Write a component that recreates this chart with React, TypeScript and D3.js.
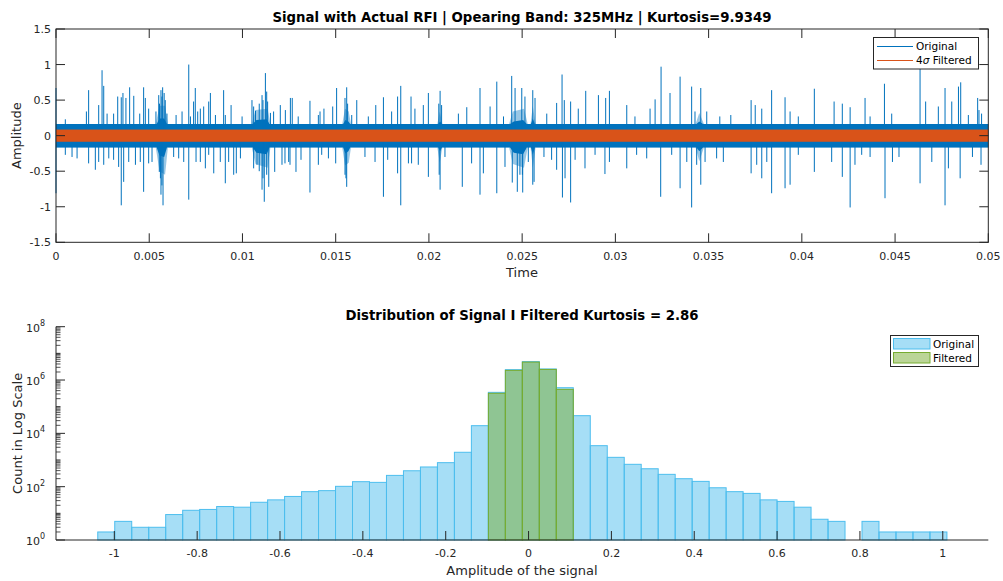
import React from 'react';
import * as d3 from 'd3';

// ---------- DATA ----------
const timeTicks = [0, 0.005, 0.01, 0.015, 0.02, 0.025, 0.03, 0.035, 0.04, 0.045, 0.05];
const ampTicks = [-1.5, -1, -0.5, 0, 0.5, 1, 1.5];

// [time in ms, amplitude]
const posSpikes: [number, number][] = [
  [0.0, 0.67], [0.5, 0.23], [1.63, 0.34], [1.75, 0.64], [2.29, 0.43], [2.47, 0.92], [2.56, 0.7], [2.74, 0.31],
  [3.09, 0.31], [3.31, 0.55], [3.5, 0.54], [3.59, 0.6], [3.75, 0.53], [3.95, 0.68], [4.17, 0.56], [4.49, 0.31],
  [4.7, 0.68], [4.79, 0.53], [4.97, 0.38], [5.36, 0.34], [5.51, 0.57], [5.55, 0.45], [5.63, 0.64], [5.68, 0.55],
  [5.72, 0.68], [5.8, 0.6], [5.86, 0.5], [5.95, 0.31], [6.44, 0.29], [6.76, 0.34], [7.12, 1.0], [7.21, 0.27],
  [7.38, 0.48], [7.47, 0.67], [7.6, 0.34], [7.74, 0.38], [7.92, 0.41], [8.19, 0.48], [8.28, 0.6], [8.55, 0.29],
  [8.99, 0.64], [9.08, 0.29], [9.39, 0.43], [9.98, 0.27], [10.51, 0.5], [10.6, 0.41], [10.7, 0.35], [10.9, 0.45],
  [11.05, 0.57], [11.1, 0.5], [11.23, 0.88], [11.3, 0.62], [11.35, 0.48], [11.5, 0.32], [11.67, 0.34], [12.03, 0.43],
  [12.3, 0.36], [12.57, 0.53], [12.67, 0.53], [12.99, 0.27], [13.62, 0.49], [14.07, 0.29], [14.16, 0.34], [14.37, 0.38],
  [14.84, 0.41], [15.05, 0.67], [15.5, 0.53], [15.59, 0.68], [15.64, 0.45], [15.86, 0.29], [16.13, 0.5], [16.75, 0.27],
  [17.15, 0.43], [17.56, 0.54], [18.0, 0.34], [18.32, 0.55], [18.49, 0.7], [19.04, 0.55], [19.25, 0.38], [19.7, 0.43],
  [19.97, 0.6], [20.53, 0.45], [20.6, 0.63], [20.68, 0.43], [21.58, 0.31], [22.03, 0.4], [22.74, 0.67], [23.28, 0.41],
  [23.64, 0.76], [24.0, 0.27], [24.44, 0.84], [24.62, 0.67], [24.98, 0.67], [25.15, 0.55], [25.57, 0.64], [25.69, 0.53],
  [26.32, 0.31], [26.85, 0.46], [27.14, 0.86], [27.26, 0.5], [27.6, 0.48], [28.01, 0.38], [28.41, 0.63], [29.09, 0.57],
  [29.48, 0.53], [29.68, 0.63], [30.61, 0.43], [31.05, 0.27], [31.86, 0.38], [32.13, 0.51], [32.45, 0.97], [32.93, 0.6],
  [33.47, 0.83], [34.09, 0.69], [34.27, 0.34], [34.58, 0.67], [34.9, 0.34], [35.6, 0.27], [36.19, 0.29], [37.28, 0.5],
  [37.5, 0.43], [37.85, 0.38], [38.38, 0.64], [39.1, 0.54], [39.37, 0.34], [39.81, 0.27], [40.67, 0.66], [41.73, 0.48],
  [42.17, 0.45], [42.59, 0.4], [43.39, 0.53], [43.66, 0.27], [44.43, 0.73], [44.82, 0.31], [46.34, 0.94], [46.64, 0.48],
  [47.32, 0.41], [47.68, 0.67], [48.04, 0.48], [48.4, 0.69], [48.52, 0.75], [48.93, 0.29], [49.43, 0.53], [49.5, 0.36],
  [49.64, 0.31],
];

const negSpikes: [number, number][] = [
  [0.0, -0.81], [0.5, -0.27], [0.86, -0.3], [1.13, -0.32], [1.75, -0.39], [2.11, -0.48], [2.29, -0.37], [2.56, -0.41],
  [2.83, -0.32], [3.09, -0.34], [3.36, -0.44], [3.5, -0.98], [3.63, -0.65], [3.9, -0.37], [4.26, -0.41], [4.52, -0.37],
  [4.7, -0.79], [4.97, -0.39], [5.15, -0.37], [5.54, -0.51], [5.6, -0.6], [5.63, -0.83], [5.68, -0.7], [5.74, -0.98],
  [6.31, -0.3], [6.58, -0.32], [6.85, -0.37], [7.12, -0.9], [7.51, -0.37], [7.74, -0.37], [8.01, -0.46], [8.19, -0.27],
  [8.46, -0.53], [8.81, -0.37], [9.08, -0.67], [9.26, -0.37], [9.53, -0.55], [9.67, -0.53], [9.89, -0.32], [10.6, -0.46],
  [10.78, -0.41], [10.9, -0.5], [11.05, -0.76], [11.1, -0.6], [11.17, -0.93], [11.3, -0.55], [11.41, -0.72], [11.73, -0.51],
  [12.12, -0.41], [12.28, -0.39], [12.48, -0.37], [12.55, -0.41], [12.87, -0.51], [13.14, -0.34], [13.62, -0.8], [14.07, -0.41],
  [14.25, -0.27], [14.61, -0.32], [15.0, -0.39], [15.5, -0.55], [15.59, -0.72], [15.55, -0.6], [16.57, -0.3], [17.11, -0.37],
  [17.56, -0.86], [17.79, -0.34], [18.32, -0.53], [18.49, -0.98], [18.9, -0.39], [19.07, -0.39], [19.43, -0.41], [19.97, -0.58],
  [20.6, -0.76], [20.55, -0.55], [20.86, -0.3], [21.79, -0.72], [22.29, -0.39], [22.74, -0.83], [22.92, -0.53], [23.64, -0.81],
  [24.08, -0.44], [24.47, -0.66], [24.74, -0.79], [24.88, -0.55], [25.01, -0.55], [25.03, -0.8], [25.33, -0.37], [25.57, -0.69],
  [25.64, -0.65], [26.17, -0.3], [26.58, -0.34], [26.85, -0.48], [27.16, -0.87], [27.3, -0.6], [27.6, -0.94], [27.84, -0.34],
  [28.37, -0.46], [28.91, -0.27], [29.44, -0.54], [29.68, -0.37], [30.61, -0.46], [31.14, -0.27], [31.68, -0.32], [32.43, -0.86],
  [33.02, -0.27], [33.47, -0.74], [33.83, -0.37], [34.09, -1.01], [34.36, -0.41], [34.58, -0.69], [34.81, -0.37], [35.43, -0.32],
  [35.79, -0.37], [37.28, -0.53], [37.58, -0.41], [37.85, -0.6], [38.12, -0.37], [38.38, -0.81], [39.1, -0.74], [39.37, -0.69],
  [39.81, -0.27], [40.67, -0.51], [41.6, -0.37], [42.17, -0.58], [42.59, -1.01], [42.85, -0.41], [43.21, -0.27], [43.66, -0.3],
  [44.46, -0.88], [44.86, -0.37], [45.21, -0.3], [46.34, -0.67], [46.97, -0.37], [47.68, -0.98], [47.86, -0.46], [48.49, -0.6],
  [49.15, -0.3], [49.61, -0.41],
];

// solid noise core: [time ms, upper, lower]
const denseEnvelope: [number, number, number][] = [
  [0, 0.165, -0.165], [5.4, 0.165, -0.165], [5.55, 0.24, -0.28], [5.8, 0.24, -0.3], [5.95, 0.165, -0.165],
  [10.55, 0.165, -0.165], [10.75, 0.22, -0.24], [11.3, 0.23, -0.26], [11.45, 0.165, -0.165],
  [15.4, 0.165, -0.165], [15.52, 0.22, -0.25], [15.68, 0.2, -0.22], [15.78, 0.165, -0.165],
  [20.5, 0.165, -0.165], [20.6, 0.2, -0.22], [20.7, 0.165, -0.165],
  [24.35, 0.165, -0.165], [24.55, 0.2, -0.24], [25.05, 0.22, -0.26], [25.25, 0.165, -0.165],
  [25.47, 0.165, -0.165], [25.57, 0.24, -0.27], [25.68, 0.165, -0.165],
  [34.35, 0.165, -0.165], [34.5, 0.2, -0.22], [34.7, 0.165, -0.165],
  [50, 0.165, -0.165],
];
// sparse fuzz of the RFI bursts: [time ms, upper, lower]
const fuzzEnvelope: [number, number, number][] = [
  [0, 0.165, -0.165], [5.35, 0.165, -0.165], [5.55, 0.42, -0.5], [5.85, 0.42, -0.55], [6.0, 0.165, -0.165],
  [10.5, 0.165, -0.165], [10.7, 0.36, -0.4], [11.35, 0.38, -0.45], [11.5, 0.165, -0.165],
  [15.35, 0.165, -0.165], [15.5, 0.38, -0.42], [15.7, 0.34, -0.38], [15.82, 0.165, -0.165],
  [20.45, 0.165, -0.165], [20.58, 0.34, -0.38], [20.72, 0.165, -0.165],
  [24.3, 0.165, -0.165], [24.5, 0.34, -0.4], [25.1, 0.38, -0.45], [25.3, 0.165, -0.165],
  [25.45, 0.165, -0.165], [25.57, 0.42, -0.45], [25.72, 0.165, -0.165],
  [34.3, 0.165, -0.165], [34.5, 0.32, -0.36], [34.75, 0.165, -0.165],
  [50, 0.165, -0.165],
];
const filteredLevel = 0.086;

// histogram
const binStart = -1.04;
const binWidth = 0.041;
const originalCounts = [
  2, 5, 3, 3, 9, 13, 14, 18, 17, 26, 32, 43, 65, 71, 103, 154, 145, 265, 395, 548,
  795, 1950, 19400, 345000, 2450000, 4900000, 2600000, 515000, 46000, 3450, 1260, 690, 470, 290, 199, 158,
  91, 65, 56, 32, 28, 17, 6, 5, 0, 5, 2, 2, 2, 2,
];
const filteredStartBin = 23;
const filteredCounts = [318000, 2300000, 4700000, 2500000, 447000];
const histTicks = [-1, -0.8, -0.6, -0.4, -0.2, 0, 0.2, 0.4, 0.6, 0.8, 1];
const logDecades = [0, 1, 2, 3, 4, 5, 6, 7, 8];

// ---------- STYLE ----------
const FONT = 'DejaVu Sans, sans-serif';
const AX = '#262626';
const BLUE = '#0072BD';
const ORANGE = '#D95319';
const HBLUE = 'rgb(77,190,238)';
const HGREEN = 'rgb(119,172,48)';

export default function App() {
  // top plot scales
  const x1 = d3.scaleLinear().domain([0, 0.05]).range([56, 988.3]);
  const y1 = d3.scaleLinear().domain([-1.5, 1.5]).range([242.3, 29]);
  // bottom plot scales
  const x2 = d3.scaleLinear().domain([-1.1408, 1.1099]).range([56, 988.3]);
  const y2 = d3.scaleLog().domain([1, 1e8]).range([540, 326.7]);

  const env = d3.area<[number, number, number]>()
    .x(d => x1(d[0] / 1000))
    .y0(d => y1(d[2]))
    .y1(d => y1(d[1]));

  const tickLen = 9;
  const minorLen = 4.5;

  const minorLog: number[] = [];
  for (let k = 0; k < 8; k++) for (let m = 2; m <= 9; m++) minorLog.push(m * Math.pow(10, k));

  return (
    <svg width={1003} height={581} style={{ position: 'fixed', left: 0, top: 0, background: '#fff' }} fontFamily={FONT}>
      <rect x={0} y={0} width={1003} height={581} fill="#fff" />
      {/* ===== TOP PLOT ===== */}
      <g>
        <path d={env(fuzzEnvelope) || ''} fill={BLUE} fillOpacity={0.4} />
        <path d={env(denseEnvelope) || ''} fill={BLUE} />
        {posSpikes.map((s, i) => (
          <line key={'p' + i} x1={x1(s[0] / 1000)} x2={x1(s[0] / 1000)} y1={y1(0)} y2={y1(s[1])} stroke={BLUE} strokeWidth={1} />
        ))}
        {negSpikes.map((s, i) => (
          <line key={'n' + i} x1={x1(s[0] / 1000)} x2={x1(s[0] / 1000)} y1={y1(0)} y2={y1(s[1])} stroke={BLUE} strokeWidth={1} />
        ))}
        <rect x={x1(0)} y={y1(filteredLevel)} width={x1(0.05) - x1(0)} height={y1(-filteredLevel) - y1(filteredLevel)} fill={ORANGE} />
        {/* box */}
        <rect x={x1(0)} y={y1(1.5)} width={x1(0.05) - x1(0)} height={y1(-1.5) - y1(1.5)} fill="none" stroke={AX} strokeWidth={1} />
        {timeTicks.map((t, i) => (
          <g key={'xt' + i}>
            <line x1={x1(t)} x2={x1(t)} y1={y1(-1.5)} y2={y1(-1.5) - tickLen} stroke={AX} />
            <line x1={x1(t)} x2={x1(t)} y1={y1(1.5)} y2={y1(1.5) + tickLen} stroke={AX} />
            <text x={x1(t)} y={260} fontSize={11} fill={AX} textAnchor="middle">{String(t)}</text>
          </g>
        ))}
        {ampTicks.map((a, i) => (
          <g key={'yt' + i}>
            <line x1={x1(0)} x2={x1(0) + tickLen} y1={y1(a)} y2={y1(a)} stroke={AX} />
            <line x1={x1(0.05)} x2={x1(0.05) - tickLen} y1={y1(a)} y2={y1(a)} stroke={AX} />
            <text x={51} y={y1(a) + 4} fontSize={11} fill={AX} textAnchor="end">{String(a)}</text>
          </g>
        ))}
        <text x={522} y={277} fontSize={13} fill={AX} textAnchor="middle">Time</text>
        <text transform={`translate(21,${(y1(1.5) + y1(-1.5)) / 2}) rotate(-90)`} fontSize={13} fill={AX} textAnchor="middle">Amplitude</text>
        <text x={522} y={21.5} fontSize={13.3} fontWeight="bold" fill="#000" textAnchor="middle">
          Signal with Actual RFI | Opearing Band: 325MHz | Kurtosis=9.9349
        </text>
        {/* legend */}
        <rect x={873.5} y={37.5} width={105} height={31.5} fill="#fff" stroke={AX} strokeWidth={1} />
        <line x1={877} x2={913} y1={46.5} y2={46.5} stroke={BLUE} strokeWidth={1} />
        <text x={916} y={50} fontSize={10.5} fill="#000">Original</text>
        <line x1={877} x2={913} y1={60.5} y2={60.5} stroke={ORANGE} strokeWidth={1} />
        <text x={916} y={64} fontSize={10.5} fill="#000">4<tspan fontStyle="italic">σ</tspan> Filtered</text>
      </g>

      {/* ===== BOTTOM PLOT ===== */}
      <g>
        {originalCounts.map((c, i) => c > 0 ? (
          <rect key={'ob' + i} x={x2(binStart + i * binWidth)} y={y2(c)} width={x2(binStart + (i + 1) * binWidth) - x2(binStart + i * binWidth)}
            height={y2(1) - y2(c)} fill={HBLUE} fillOpacity={0.5} stroke={HBLUE} strokeWidth={1} />
        ) : null)}
        {filteredCounts.map((c, j) => {
          const i = filteredStartBin + j;
          return (
            <rect key={'fb' + j} x={x2(binStart + i * binWidth)} y={y2(c)} width={x2(binStart + (i + 1) * binWidth) - x2(binStart + i * binWidth)}
              height={y2(1) - y2(c)} fill={HGREEN} fillOpacity={0.5} stroke={HGREEN} strokeWidth={1} />
          );
        })}
        {/* axes */}
        <line x1={56} x2={988.3} y1={540} y2={540} stroke={AX} />
        <line x1={56} x2={56} y1={326.7} y2={540} stroke={AX} />
        {histTicks.map((t, i) => (
          <g key={'hx' + i}>
            <line x1={x2(t)} x2={x2(t)} y1={540} y2={540 - tickLen} stroke={AX} />
            <text x={x2(t)} y={557} fontSize={11} fill={AX} textAnchor="middle">{String(t)}</text>
          </g>
        ))}
        {logDecades.map((k, i) => (
          <g key={'hy' + i}>
            <line x1={56} x2={56 + (k % 2 === 0 ? tickLen : minorLen)} y1={y2(Math.pow(10, k))} y2={y2(Math.pow(10, k))} stroke={AX} />
            {k % 2 === 0 ? (
              <text x={45} y={y2(Math.pow(10, k)) + 5} fontSize={11} fill={AX} textAnchor="end">
                10<tspan dy={-6} fontSize={8}>{String(k)}</tspan>
              </text>
            ) : null}
          </g>
        ))}
        {minorLog.map((v, i) => (
          <line key={'ml' + i} x1={56} x2={56 + minorLen} y1={y2(v)} y2={y2(v)} stroke={AX} strokeWidth={0.8} />
        ))}
        <text x={522} y={319.5} fontSize={13.3} fontWeight="bold" fill="#000" textAnchor="middle">
          Distribution of Signal I Filtered Kurtosis = 2.86
        </text>
        <text x={522} y={575} fontSize={13} fill={AX} textAnchor="middle">Amplitude of the signal</text>
        <text transform={`translate(22,${(326.7 + 540) / 2}) rotate(-90)`} fontSize={13} fill={AX} textAnchor="middle">Count in Log Scale</text>
        {/* legend */}
        <rect x={890.5} y={335.5} width={88} height={31} fill="#fff" stroke={AX} strokeWidth={1} />
        <rect x={893.5} y={338.5} width={36.5} height={10.5} fill={HBLUE} fillOpacity={0.5} stroke={HBLUE} />
        <text x={933} y={348} fontSize={10.5} fill="#000">Original</text>
        <rect x={893.5} y={352.5} width={36.5} height={10.5} fill={HGREEN} fillOpacity={0.5} stroke={HGREEN} />
        <text x={933} y={362} fontSize={10.5} fill="#000">Filtered</text>
      </g>
    </svg>
  );
}
